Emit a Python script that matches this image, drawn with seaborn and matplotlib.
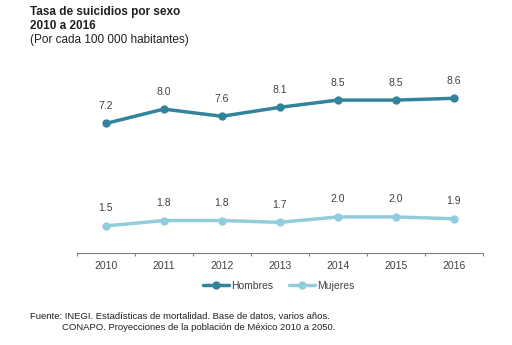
import matplotlib
matplotlib.use("Agg")
import matplotlib.pyplot as plt
import seaborn as sns
import pandas as pd
import numpy as np
from matplotlib.lines import Line2D

years = ["2010", "2011", "2012", "2013", "2014", "2015", "2016"]
hombres = [7.2, 8.0, 7.6, 8.1, 8.5, 8.5, 8.6]
mujeres = [1.5, 1.8, 1.8, 1.7, 2.0, 2.0, 1.9]
series = ["Hombres", "Mujeres"]
colors = {"Hombres": "#31849B", "Mujeres": "#93CDDD"}

sns.set_theme(style="white")
plt.rcParams["font.family"] = ["Liberation Sans", "DejaVu Sans"]

rows = []
for i, y in enumerate(years):
    rows.append({"pos": i, "year": y, "serie": "Hombres", "valor": hombres[i]})
    rows.append({"pos": i, "year": y, "serie": "Mujeres", "valor": mujeres[i]})
df = pd.DataFrame(rows)

fig = plt.figure(figsize=(5.12, 3.45), dpi=100)
ax = fig.add_axes([0.150, 0.267, 0.793, 0.521])

sns.lineplot(data=df, x="pos", y="valor", hue="serie", hue_order=series,
             palette=colors, marker="o", markersize=6, markeredgewidth=0,
             linewidth=2.5, ax=ax, legend=False)

for s, vals in zip(series, [hombres, mujeres]):
    for i, v in enumerate(vals):
        ax.annotate(f"{v:.1f}", (i, v), xytext=(0, 9), textcoords="offset points",
                    ha="center", va="bottom", fontsize=7.5, color="#404040")

ax.set_xlim(-0.5, 6.5)
ax.set_ylim(0, 10)
ax.set_xticks(range(len(years)))
ax.set_xticklabels(years, fontsize=7.5, color="#404040")
ax.set_xticks(np.arange(-0.5, 7, 1), minor=True)
ax.tick_params(axis="x", which="major", length=0, pad=6)
ax.tick_params(axis="x", which="minor", length=2.5, width=0.8, color="#808080",
               direction="out", bottom=True)
ax.set_yticks([])
ax.set_xlabel("")
ax.set_ylabel("")
for sp in ["top", "right", "left"]:
    ax.spines[sp].set_visible(False)
ax.spines["bottom"].set_color("#808080")
ax.spines["bottom"].set_linewidth(0.8)

handles = [Line2D([0], [0], color=colors[s], lw=2.5, marker="o", markersize=6,
                  markeredgewidth=0) for s in series]
fig.legend(handles, series, loc="center", bbox_to_anchor=(0.545, 0.172), ncol=2,
           frameon=False, fontsize=7.5, handlelength=2.5, handletextpad=0.2,
           columnspacing=1.5, labelcolor="#404040")

fig.text(0.059, 0.982, "Tasa de suicidios por sexo", fontsize=8.5, fontweight="bold",
         color="#202020", va="top")
fig.text(0.059, 0.942, "2010 a 2016", fontsize=8.5, fontweight="bold",
         color="#202020", va="top")
fig.text(0.059, 0.902, "(Por cada 100 000 habitantes)", fontsize=8.5,
         color="#202020", va="top")

fig.text(0.059, 0.082, "Fuente: INEGI. Estadísticas de mortalidad. Base de datos, varios años.",
         fontsize=6.8, color="#202020", va="center")
fig.text(0.121, 0.052, "CONAPO. Proyecciones de la población de México 2010 a 2050.",
         fontsize=6.8, color="#202020", va="center")

fig.savefig("out.png", dpi=100, facecolor="white")
